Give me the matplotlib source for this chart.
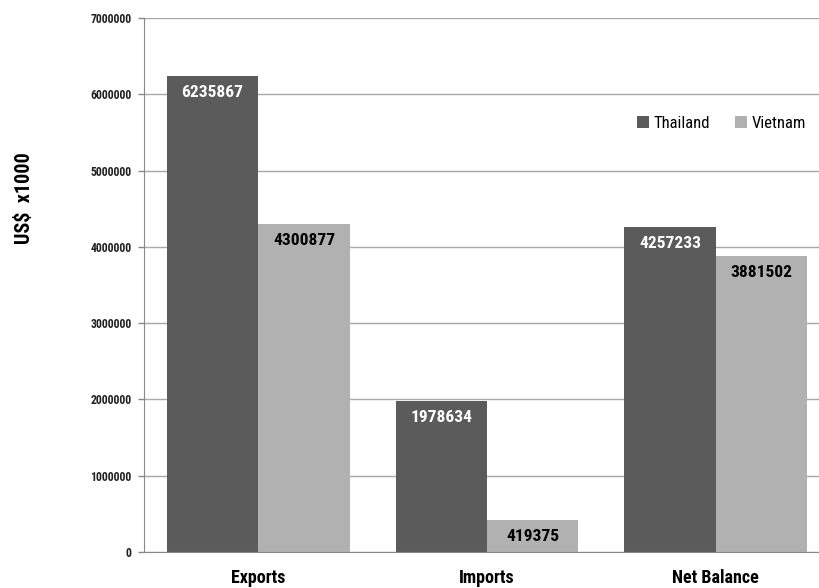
import matplotlib
matplotlib.use("Agg")
from matplotlib import pyplot as plt
import numpy as np

categories = ["Exports", "Imports", "Net Balance"]
thailand = [6235867, 1978634, 4257233]
vietnam = [4300877, 419375, 3881502]
yticks = [0, 1000000, 2000000, 3000000, 4000000, 5000000, 6000000, 7000000]

narrow = ["Roboto Condensed", "Liberation Sans"]
dark = "#5b5b5b"
light = "#b1b1b1"

fig = plt.figure(figsize=(8.19, 5.88), dpi=100)
ax = fig.add_axes([144 / 819, 36 / 588, 675 / 819, 534 / 588])

x = np.arange(len(categories))
w = 0.4
b1 = ax.bar(x - w / 2, thailand, w, color=dark, label="Thailand", zorder=2)
b2 = ax.bar(x + w / 2, vietnam, w, color=light, label="Vietnam", zorder=2)

# value labels just inside the top of each bar
for rect, v in zip(b1, thailand):
    ax.annotate(str(v), (rect.get_x() + rect.get_width() / 2, v), xytext=(0, -6.5),
                textcoords="offset points", ha="center", va="top", color="white",
                fontsize=12.5, fontweight="bold", family=narrow, zorder=3)
for rect, v in zip(b2, vietnam):
    ax.annotate(str(v), (rect.get_x() + rect.get_width() / 2, v), xytext=(0, -6.5),
                textcoords="offset points", ha="center", va="top", color="black",
                fontsize=12.5, fontweight="bold", family=narrow, zorder=3)

ax.set_xlim(-0.5, 2.5 - 11 / 228.7)
ax.set_ylim(0, 7000000)
ax.set_yticks(yticks)
ax.set_yticklabels([str(t) for t in yticks], fontsize=8.5, fontweight="bold",
                   family=narrow, color="#222222")
ax.set_xticks(x)
ax.set_xticklabels(categories, fontsize=13, fontweight="bold", family=narrow)
ax.tick_params(axis="x", length=0, pad=12)
ax.tick_params(axis="y", length=4, color="#888888", width=1, pad=5)

ax.grid(axis="y", color="#a8a8a8", linewidth=1, zorder=1)
for s in ["top", "right"]:
    ax.spines[s].set_visible(False)
ax.spines["left"].set_color("#888888")
ax.spines["bottom"].set_color("#888888")

fig.text(25 / 819, 1 - 198 / 588, "US$  x1000", rotation=90, ha="center", va="center",
         fontsize=14.5, fontweight="bold", family=narrow)

leg = ax.legend(loc="center", bbox_to_anchor=(0.856, 0.803), ncol=2, frameon=False,
                prop={"family": narrow, "size": 12}, handlelength=0.7, handleheight=0.7,
                handletextpad=0.3, columnspacing=1.5)

fig.savefig("out.png", dpi=100)
